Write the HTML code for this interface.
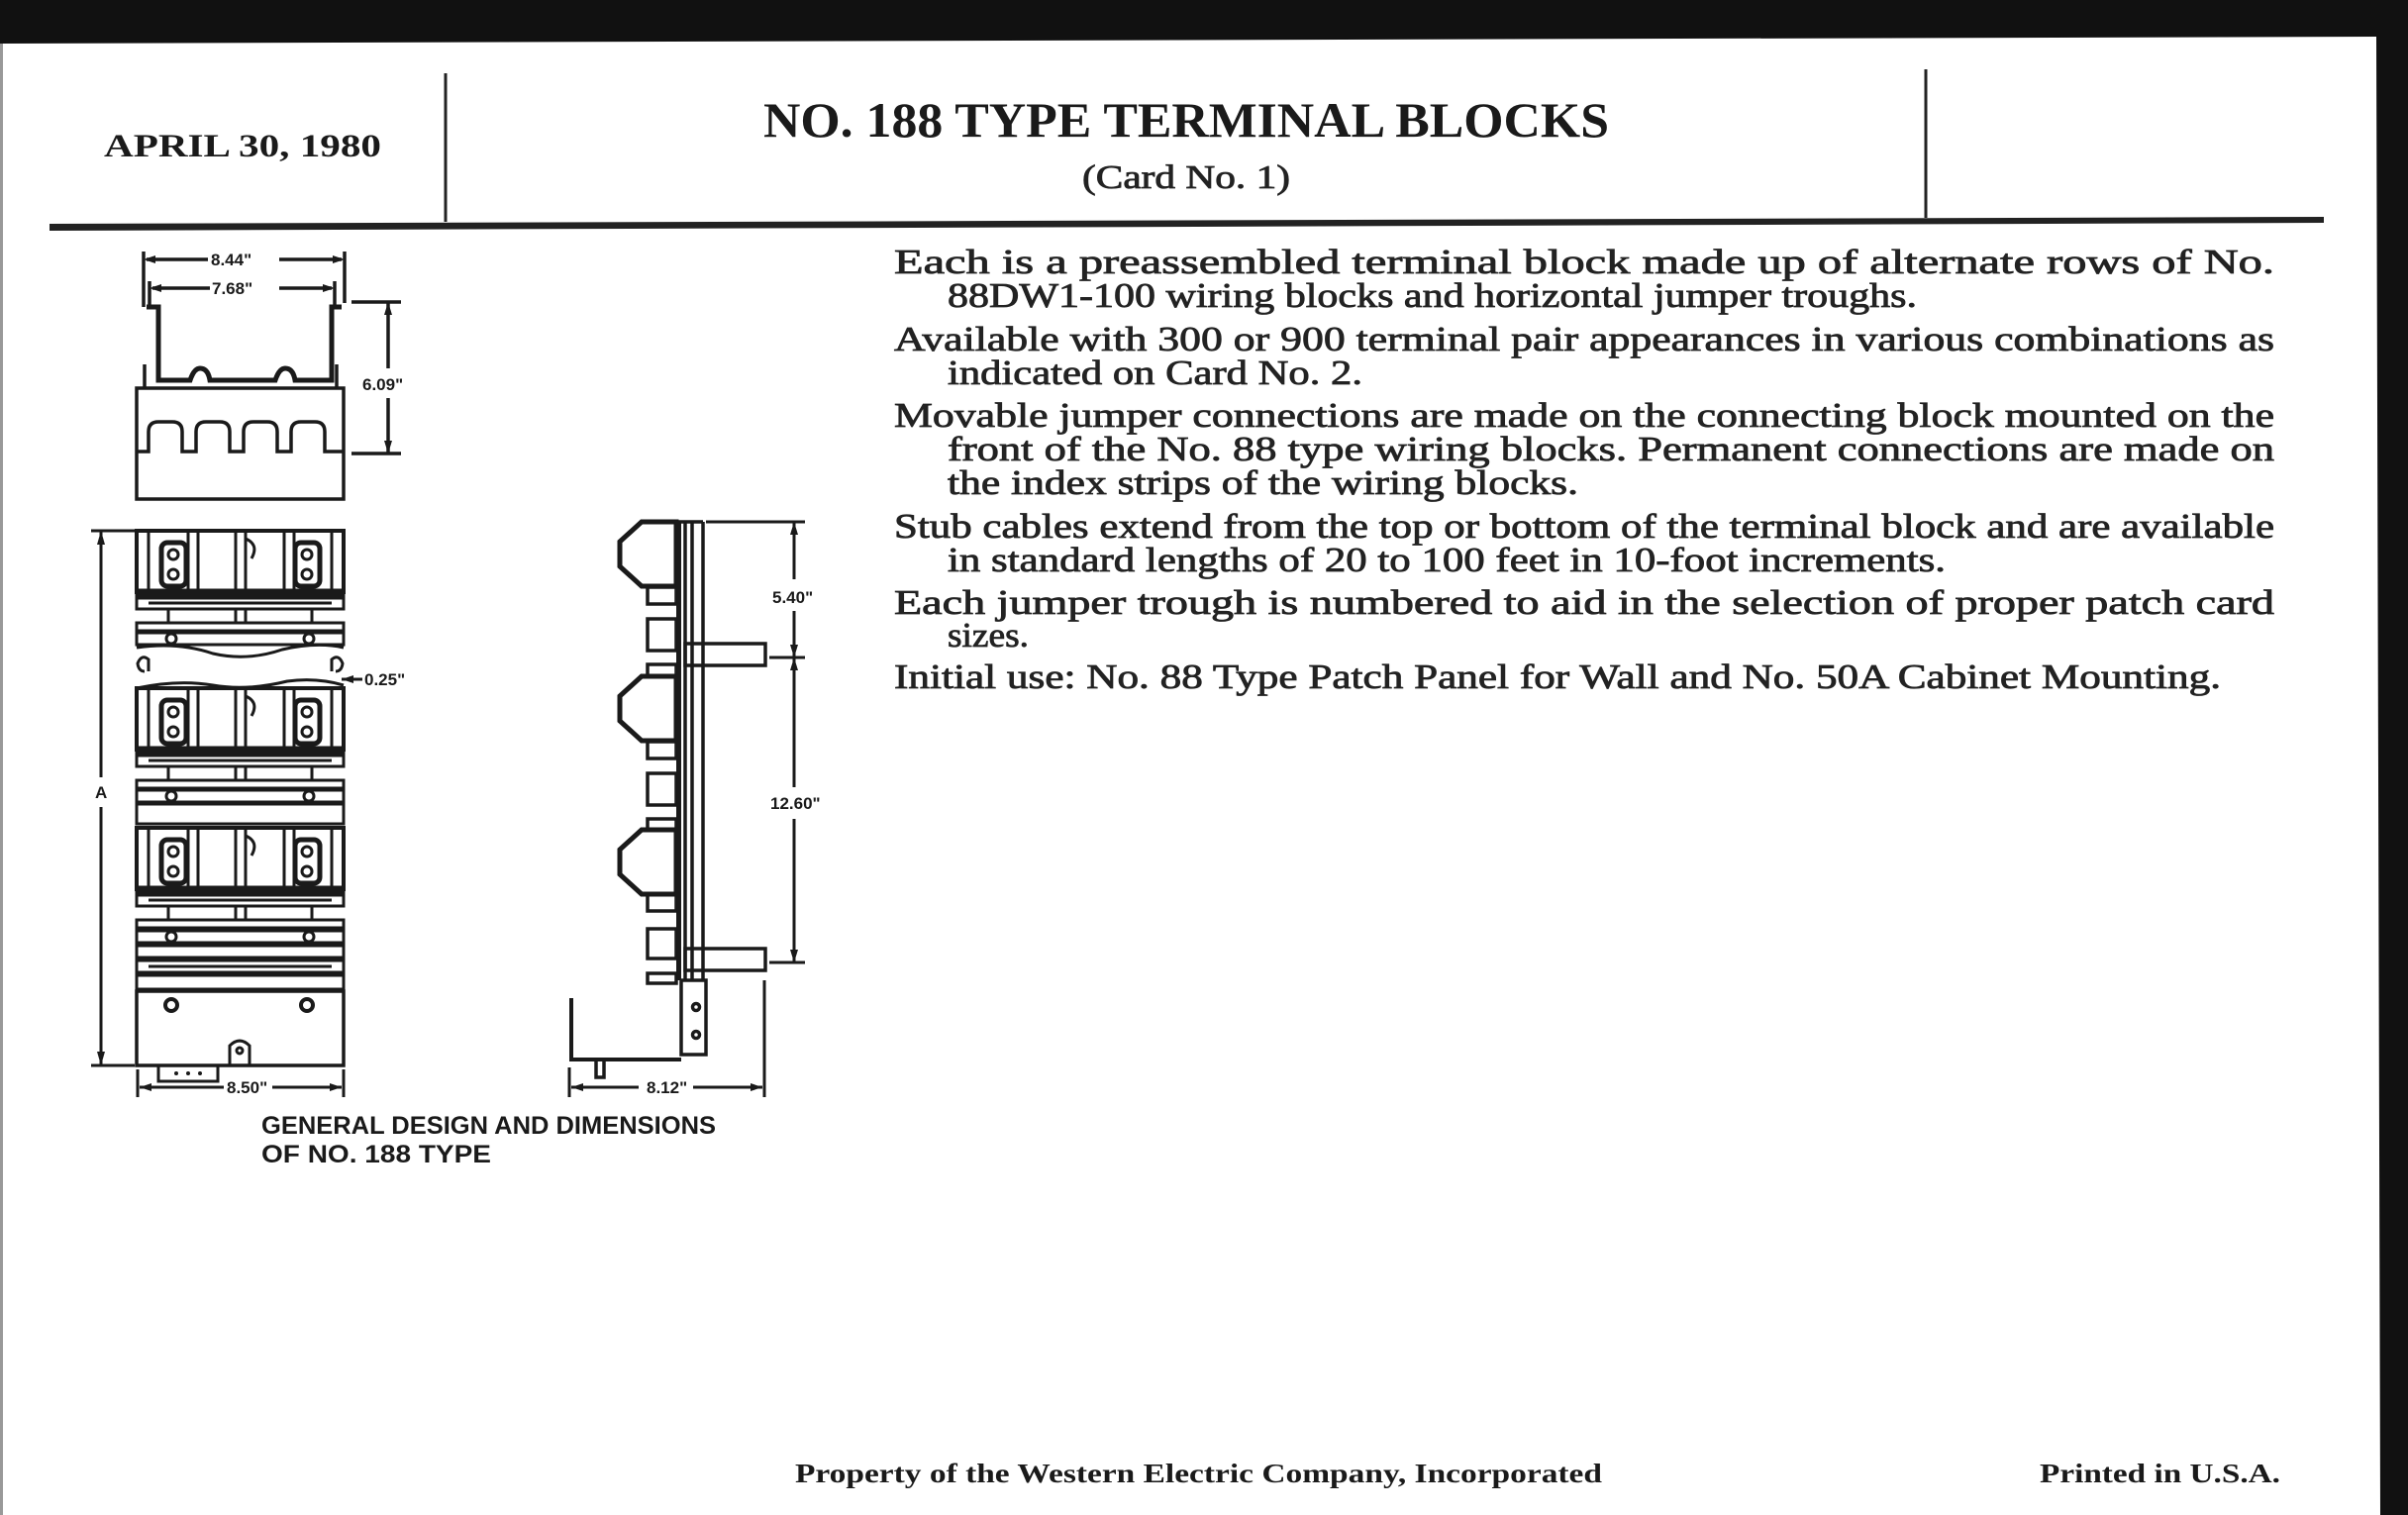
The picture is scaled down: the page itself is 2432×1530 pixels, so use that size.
<!DOCTYPE html>
<html><head><meta charset="utf-8"><style>
html,body{margin:0;padding:0;background:#fff}
svg{display:block}
.b{font-family:"Liberation Serif",serif;fill:#222;stroke:#222;stroke-width:0.8}
.h{font-family:"Liberation Serif",serif;font-weight:bold;fill:#1a1a1a}
.s{font-family:"Liberation Sans",sans-serif;font-weight:bold;fill:#1a1a1a}
</style></head><body>
<svg width="2432" height="1530" viewBox="0 0 2432 1530" xmlns="http://www.w3.org/2000/svg">
<rect width="2432" height="1530" fill="#fff"/>
<polygon points="0,0 2432,0 2432,1530 2404,1530 2400,37 0,44" fill="#111"/>
<rect x="0" y="44" width="3" height="1486" fill="#999"/>
<line x1="450" y1="74" x2="450" y2="224" stroke="#222" stroke-width="3"/>
<line x1="1945" y1="70" x2="1945" y2="220" stroke="#222" stroke-width="3"/>
<polygon points="50,226 2347,219 2347,225 50,233" fill="#222"/>
<text class="h" x="105" y="158" font-size="33" textLength="280" lengthAdjust="spacingAndGlyphs">APRIL 30, 1980</text>
<text class="h" x="771" y="138" font-size="50" textLength="854" lengthAdjust="spacingAndGlyphs">NO. 188 TYPE TERMINAL BLOCKS</text>
<text class="b" x="1093" y="190" font-size="34" textLength="210" lengthAdjust="spacingAndGlyphs">(Card No. 1)</text>
<g class="b" font-size="35">
<text x="903" y="276" textLength="1394" lengthAdjust="spacingAndGlyphs">Each is a preassembled terminal block made up of alternate rows of No.</text>
<text x="957" y="310" textLength="979" lengthAdjust="spacingAndGlyphs">88DW1-100 wiring blocks and horizontal jumper troughs.</text>
<text x="903" y="354" textLength="1394" lengthAdjust="spacingAndGlyphs">Available with 300 or 900 terminal pair appearances in various combinations as</text>
<text x="957" y="388" textLength="419" lengthAdjust="spacingAndGlyphs">indicated on Card No. 2.</text>
<text x="903" y="431" textLength="1394" lengthAdjust="spacingAndGlyphs">Movable jumper connections are made on the connecting block mounted on the</text>
<text x="957" y="465" textLength="1340" lengthAdjust="spacingAndGlyphs">front of the No. 88 type wiring blocks. Permanent connections are made on</text>
<text x="957" y="499" textLength="637" lengthAdjust="spacingAndGlyphs">the index strips of the wiring blocks.</text>
<text x="903" y="543" textLength="1394" lengthAdjust="spacingAndGlyphs">Stub cables extend from the top or bottom of the terminal block and are available</text>
<text x="957" y="577" textLength="1008" lengthAdjust="spacingAndGlyphs">in standard lengths of 20 to 100 feet in 10-foot increments.</text>
<text x="903" y="620" textLength="1394" lengthAdjust="spacingAndGlyphs">Each jumper trough is numbered to aid in the selection of proper patch card</text>
<text x="957" y="653" textLength="82" lengthAdjust="spacingAndGlyphs">sizes.</text>
<text x="903" y="695" textLength="1340" lengthAdjust="spacingAndGlyphs">Initial use: No. 88 Type Patch Panel for Wall and No. 50A Cabinet Mounting.</text>
</g>
<text class="h" x="803" y="1497" font-size="27" textLength="815" lengthAdjust="spacingAndGlyphs">Property of the Western Electric Company, Incorporated</text>
<text class="h" x="2060" y="1497" font-size="27" textLength="243" lengthAdjust="spacingAndGlyphs">Printed in U.S.A.</text>
<text class="s" x="264" y="1145" font-size="25" textLength="459" lengthAdjust="spacingAndGlyphs">GENERAL DESIGN AND DIMENSIONS</text>
<text class="s" x="264" y="1174" font-size="25" textLength="232" lengthAdjust="spacingAndGlyphs">OF NO. 188 TYPE</text>

<g stroke="#1a1a1a" stroke-width="3.5" fill="none">
<line x1="145" y1="254" x2="145" y2="310"/><line x1="348" y1="254" x2="348" y2="306"/>
<line x1="148" y1="262" x2="210" y2="262"/><line x1="282" y1="262" x2="345" y2="262"/>
<line x1="151" y1="284" x2="151" y2="310"/><line x1="338" y1="284" x2="338" y2="310"/>
<line x1="154" y1="291" x2="212" y2="291"/><line x1="282" y1="291" x2="335" y2="291"/>
<path d="M148,310 L160,310 L160,384 L192,384 Q196,372 202,372 Q210,372 212,384 L278,384 Q282,372 288,372 Q296,372 298,384 L335,384 L335,310 L345,310" stroke-width="5"/>
<line x1="146" y1="368" x2="146" y2="392"/><line x1="340" y1="368" x2="340" y2="392"/>
<rect x="138" y="392" width="209" height="112"/>
<path d="M138,456 L150,456 L150,436 Q150,426 160,426 L174,426 Q184,426 184,436 L184,456 L198,456 L198,436 Q198,426 208,426 L222,426 Q232,426 232,436 L232,456 L246,456 L246,436 Q246,426 256,426 L270,426 Q280,426 280,436 L280,456 L294,456 L294,436 Q294,426 304,426 L318,426 Q328,426 328,436 L328,456 L347,456"/>
<line x1="355" y1="305" x2="405" y2="305"/><line x1="355" y1="458" x2="405" y2="458"/>
<line x1="392" y1="305" x2="392" y2="372"/><line x1="392" y1="402" x2="392" y2="458"/>
</g>
<g fill="#1a1a1a">
<polygon points="145,262 157,258 157,266"/><polygon points="348,262 336,258 336,266"/>
<polygon points="151,291 163,287 163,295"/><polygon points="338,291 326,287 326,295"/>
<polygon points="392,305 388,318 396,318"/><polygon points="392,458 388,445 396,445"/>
</g>
<g class="s" font-size="17">
<text x="213" y="268">8.44"</text><text x="214" y="297">7.68"</text>
<text x="366" y="394">6.09"</text>
<text x="368" y="692">0.25"</text>
<text x="96" y="806">A</text>
<text x="229" y="1104">8.50"</text>
<text x="780" y="609">5.40"</text>
<text x="778" y="817">12.60"</text>
<text x="653" y="1104">8.12"</text>
</g>

<defs>
<g id="mod">
<rect x="138" y="0" width="209" height="62" stroke-width="4"/>
<line x1="150" y1="0" x2="150" y2="62"/><line x1="335" y1="0" x2="335" y2="62"/>
<rect x="190" y="0" width="10" height="62"/><rect x="238" y="0" width="10" height="62"/><rect x="287" y="0" width="10" height="62"/>
<rect x="163" y="12" width="25" height="44" rx="6" stroke-width="5"/>
<rect x="298" y="12" width="25" height="44" rx="6" stroke-width="5"/>
<circle cx="175" cy="24" r="5"/><circle cx="175" cy="44" r="5"/>
<circle cx="310" cy="24" r="5"/><circle cx="310" cy="44" r="5"/>
<path d="M248,8 Q262,14 254,28"/>
<rect x="138" y="60" width="209" height="8" fill="#1a1a1a"/>
</g>
<g id="strip">
<rect x="138" y="0" width="209" height="12"/>
<line x1="150" y1="6" x2="335" y2="6"/>
<rect x="238" y="12" width="10" height="14"/>
<line x1="170" y1="12" x2="170" y2="26"/><line x1="315" y1="12" x2="315" y2="26"/>
<rect x="138" y="26" width="209" height="8"/>
</g>
</defs>
<g stroke="#1a1a1a" stroke-width="3" fill="none">
<use href="#mod" y="536"/>
<use href="#strip" y="603"/>
<rect x="138" y="639" width="209" height="12"/>
<circle cx="173" cy="645" r="5"/><circle cx="312" cy="645" r="5"/>
<path d="M138,654 Q180,648 215,660 Q250,668 285,656 Q320,648 347,654"/>
<path d="M150,678 L150,666 Q143,660 139,670 Q140,678 146,678 M335,678 L335,666 Q342,660 346,670 Q345,678 339,678"/>
<path d="M138,695 Q180,686 215,692 Q250,698 290,688 Q320,684 347,692"/>
<use href="#mod" y="695"/>
<use href="#strip" y="762"/>
<rect x="138" y="798" width="209" height="12"/><circle cx="173" cy="804" r="5"/><circle cx="312" cy="804" r="5"/>
<rect x="138" y="812" width="209" height="20"/>
<use href="#mod" y="836"/>
<use href="#strip" y="903"/>
<rect x="138" y="940" width="209" height="12"/><circle cx="173" cy="946" r="5"/><circle cx="312" cy="946" r="5"/>
<rect x="138" y="955" width="209" height="12"/>
<rect x="138" y="970" width="209" height="12"/><line x1="150" y1="976" x2="335" y2="976"/>
<rect x="138" y="985" width="209" height="14"/>
<rect x="138" y="1001" width="209" height="75" stroke-width="3.5"/>
<circle cx="173" cy="1015" r="6" stroke-width="4"/><circle cx="310" cy="1015" r="6" stroke-width="4"/>
<path d="M232,1076 L232,1056 Q242,1046 252,1056 L252,1076"/><circle cx="242" cy="1061" r="3"/>
<rect x="160" y="1076" width="60" height="16"/>
</g>
<g fill="#1a1a1a"><circle cx="178" cy="1084" r="2"/><circle cx="190" cy="1084" r="2"/><circle cx="202" cy="1084" r="2"/></g>
<g stroke="#1a1a1a" stroke-width="3" fill="none">
<line x1="92" y1="536" x2="136" y2="536"/><line x1="92" y1="1076" x2="136" y2="1076"/>
<line x1="102" y1="536" x2="102" y2="785"/><line x1="102" y1="815" x2="102" y2="1076"/>
<line x1="139" y1="1080" x2="139" y2="1108"/><line x1="347" y1="1080" x2="347" y2="1108"/>
<line x1="141" y1="1098" x2="226" y2="1098"/><line x1="275" y1="1098" x2="345" y2="1098"/>
<line x1="345" y1="686" x2="366" y2="686"/>
</g>
<g fill="#1a1a1a">
<polygon points="102,536 98,550 106,550"/><polygon points="102,1076 98,1062 106,1062"/>
<polygon points="141,1098 153,1094 153,1102"/><polygon points="345,1098 333,1094 333,1102"/>
<polygon points="345,686 357,682 357,690"/>
</g>

<defs>
<path id="hex" d="M648,0 L683,0 L683,65 L648,65 L626,45 L626,20 Z"/>
</defs>
<g stroke="#1a1a1a" stroke-width="3.5" fill="none">
<use href="#hex" y="527" stroke-width="5"/><use href="#hex" y="683" stroke-width="5"/><use href="#hex" y="838" stroke-width="5"/>
<rect x="683" y="527" width="5" height="463" fill="#1a1a1a" stroke="none"/>
<line x1="692" y1="527" x2="692" y2="990"/><line x1="699" y1="527" x2="699" y2="990"/><line x1="710" y1="527" x2="710" y2="990"/>
<line x1="683" y1="527" x2="710" y2="527"/>
<rect x="654" y="593" width="29" height="17"/><rect x="654" y="625" width="29" height="32"/><rect x="654" y="671" width="29" height="12"/>
<rect x="654" y="749" width="29" height="17"/><rect x="654" y="781" width="29" height="32"/><rect x="654" y="827" width="29" height="11"/>
<rect x="654" y="903" width="29" height="17"/><rect x="654" y="938" width="29" height="30"/><rect x="654" y="983" width="29" height="10"/>
<rect x="692" y="650" width="81" height="22"/>
<rect x="692" y="958" width="81" height="22"/>
<rect x="688" y="990" width="25" height="75"/>
<circle cx="703" cy="1017" r="3.5"/><circle cx="703" cy="1045" r="3.5"/>
<path d="M577,1008 L577,1070 L688,1070" stroke-width="4"/>
<rect x="602" y="1070" width="8" height="18"/>
<g stroke-width="3">
<line x1="713" y1="527" x2="813" y2="527"/>
<line x1="777" y1="664" x2="813" y2="664"/>
<line x1="777" y1="972" x2="813" y2="972"/>
<line x1="802" y1="527" x2="802" y2="585"/><line x1="802" y1="617" x2="802" y2="664"/>
<line x1="802" y1="664" x2="802" y2="795"/><line x1="802" y1="827" x2="802" y2="972"/>
<line x1="575" y1="1078" x2="575" y2="1108"/><line x1="772" y1="990" x2="772" y2="1108"/>
<line x1="577" y1="1098" x2="645" y2="1098"/><line x1="700" y1="1098" x2="770" y2="1098"/>
</g>
</g>
<g fill="#1a1a1a">
<polygon points="802,527 798,540 806,540"/><polygon points="802,664 798,651 806,651"/>
<polygon points="802,664 798,677 806,677"/><polygon points="802,972 798,959 806,959"/>
<polygon points="577,1098 589,1094 589,1102"/><polygon points="770,1098 758,1094 758,1102"/>
</g>
</svg>
</body></html>
